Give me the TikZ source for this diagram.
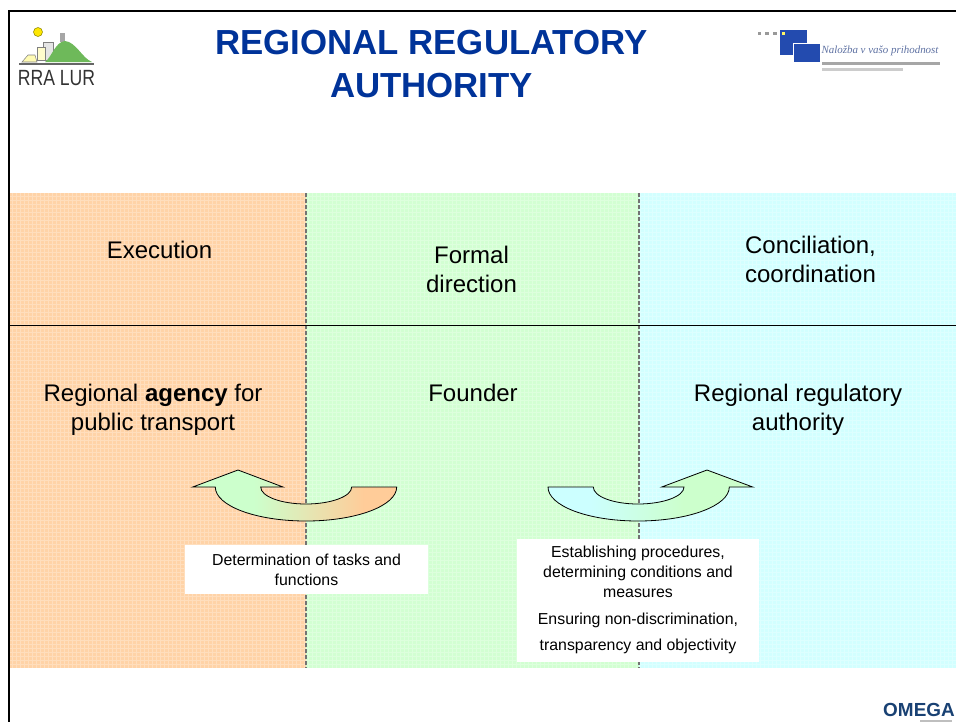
\documentclass[tikz,border=0pt]{standalone}
\usepackage{fontspec}
\setmainfont{Liberation Sans}
\newfontfamily\mottofont{Liberation Serif}
\usetikzlibrary{positioning}
\definecolor{bandorange}{RGB}{255,211,167}
\definecolor{bandgreen}{RGB}{210,255,210}
\definecolor{bandcyan}{RGB}{210,255,255}
\definecolor{titleblue}{RGB}{0,51,153}
\definecolor{hillgreen}{RGB}{110,185,90}
\definecolor{flagblue}{RGB}{35,75,175}
\definecolor{omegablue}{RGB}{25,65,115}
\definecolor{arrowgreen}{RGB}{204,255,204}
\definecolor{arroworange}{RGB}{255,204,153}
\definecolor{arrowcyan}{RGB}{204,255,255}
\pgfdeclarehorizontalshading{greenorange}{100bp}{color(0bp)=(arrowgreen); color(40bp)=(arrowgreen); color(67bp)=(arroworange); color(100bp)=(arroworange)}
\pgfdeclarehorizontalshading{cyangreen}{100bp}{color(0bp)=(arrowcyan); color(35bp)=(arrowcyan); color(58bp)=(arrowgreen); color(100bp)=(arrowgreen)}
\tikzset{
  headtext/.style={text=black,font=\fontsize{18pt}{21.75pt}\selectfont,align=center},
  boxtext/.style={fill=white,font=\fontsize{11.9pt}{15pt}\selectfont,align=center,inner sep=0pt},
  bendarrow/.style={draw=black,semithick},
  banddash/.style={black!55,line width=0.8pt,dash pattern=on 3pt off 1.5pt}
}
\begin{document}
\begin{tikzpicture}[x=0.75pt,y=-0.75pt]
  \useasboundingbox (0,0) rectangle (956,722);

  % bands
  \fill[bandorange] (10,193) rectangle (306,668);
  \fill[bandgreen] (306,193) rectangle (639,668);
  \fill[bandcyan] (639,193) rectangle (956,668);
  \draw[step=3pt,white,opacity=0.25,very thin] (10,193) grid (956,668);

  \draw[banddash] (306,193) -- (306,668);
  \draw[banddash] (639,193) -- (639,668);
  \draw[black] (10,325.7) -- (956,325.7);

  % frame
  \draw[black,line width=1.8pt] (956,10.8) -- (9,10.8) -- (9,722);

  % title
  \node (TITLE) at (431.5,64) [text=titleblue,font=\fontsize{26.1pt}{32pt}\selectfont\bfseries,align=center]
    {REGIONAL REGULATORY\\AUTHORITY};

  \node (EXEC) at (159.5,250) [headtext] {Execution};
  \node (FORMAL) at (471.5,269.5) [headtext] {Formal\\direction};
  \node (CONC) at (810.5,259.5) [headtext] {Conciliation,\\coordination};

  \node (AGENCY) at (153,409.5) [headtext] {Regional \textbf{agency} for\\public transport};
  \node (FOUNDER) at (473,393) [headtext] {Founder};
  \node (AUTH) at (798,409.5) [headtext] {Regional regulatory\\authority};

  % bent arrows
  \path[bendarrow,shading=greenorange] (192.7,487) -- (238,470) -- (283,487) -- (260.7,487)
    .. controls (260.7,496.4) and (281,504) .. (306,504)
    .. controls (331,504) and (351.7,496.4) .. (351.7,487)
    -- (396.7,487)
    .. controls (396.7,505.8) and (356.2,521) .. (306,521)
    .. controls (255.8,521) and (215.3,505.8) .. (215.3,487) -- cycle;
  \path[bendarrow,shading=cyangreen] (548,487) -- (593.3,487)
    .. controls (593.3,496.4) and (613,504) .. (638,504)
    .. controls (663,504) and (684,496.4) .. (684,487)
    -- (661.7,487) -- (707,470) -- (752.7,487) -- (729.3,487)
    .. controls (729.3,505.8) and (688.2,521) .. (638,521)
    .. controls (587.8,521) and (548,505.8) .. (548,487) -- cycle;

  % text boxes
  \node (TASKS) at (306.5,569.5) [boxtext,minimum width=182.25pt,minimum height=36.75pt]
    {Determination of tasks and\\functions};
  \node (PROC) at (638,600) [boxtext,minimum width=181.5pt,minimum height=92.25pt]
    {Establishing procedures,\\determining conditions and\\measures\\[5pt]Ensuring non-discrimination,\\[5pt]transparency and objectivity};

  % logo left
  \fill[yellow!90!orange,draw=olive] (38,32) circle (4.5);
  \fill[black!10,draw=black!50] (43,42) rectangle (53,60);
  \fill[yellow!20,draw=black!50] (37,47) rectangle (45,60);
  \fill[yellow!30,draw=black!50] (22,62) -- (28,55) -- (35,55) -- (37,62) -- cycle;
  \fill[black!35] (60,42) rectangle (65,33);
  \fill[hillgreen] (45,62) .. controls (52,57) and (55,42) .. (65,41)
    .. controls (76,42) and (82,58) .. (92,62) -- cycle;
  \draw[black!60,line width=1pt] (19,64) -- (94,64);
  \node (RRA) at (56.5,78) [font=\fontsize{16.5pt}{17pt}\selectfont,black!80,inner sep=0pt,xscale=0.8] {RRA LUR};

  % logo right
  \fill[black!40] (758,32) rectangle (761,35);
  \fill[black!40] (765,32) rectangle (769,35);
  \fill[black!40] (773,32) rectangle (777,35);
  \fill[flagblue] (780,30) rectangle (807,55);
  \fill[yellow!60!white] (782,32) rectangle (785,35);
  \fill[flagblue,draw=white] (793,43) rectangle (820,62);
  \node (MOTTO) at (880,51) [font=\fontsize{8.2pt}{9pt}\selectfont\mottofont\itshape,text=flagblue!70!black!70,inner sep=0pt]
    {Naložba v vašo prihodnost};
  \fill[black!35] (822,62) rectangle (940,64.5);
  \fill[black!20] (822,68) rectangle (903,71);

  % logo bottom
  \node (OMEGA) at (919,710) [font=\fontsize{14.2pt}{15pt}\selectfont\bfseries,text=omegablue,inner sep=0pt] {OMEGA};
  \fill[black!25] (920,720) rectangle (952,722);
\end{tikzpicture}
\end{document}
